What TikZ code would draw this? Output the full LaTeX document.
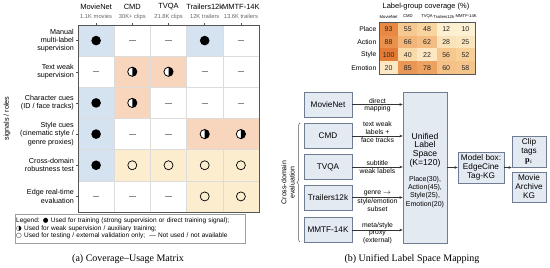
\documentclass[tikz,border=0pt]{standalone}
\usepackage{fontspec}
\setmainfont{Liberation Serif}
\setsansfont{Liberation Sans}
\newfontfamily\dejavu{DejaVu Sans}
\usetikzlibrary{arrows.meta,decorations.pathreplacing}
\definecolor{cblue}{HTML}{D5E2EF}
\definecolor{cpeach}{HTML}{F8D6BD}
\definecolor{cyell}{HTML}{FCEDCE}
\definecolor{gridc}{HTML}{DCDCDC}
\definecolor{framec}{HTML}{555555}
\definecolor{subgray}{HTML}{666666}
\definecolor{dashc}{HTML}{8A8A8A}
\definecolor{legc}{HTML}{A0A0A0}
\definecolor{boxfill}{HTML}{E4EAF2}
\definecolor{boxdraw}{HTML}{6E7D92}
\definecolor{arrc}{HTML}{333333}
\definecolor{hmlow}{HTML}{FFF8E0}
\definecolor{hmmid}{HTML}{F8D29B}
\definecolor{hmhigh}{HTML}{E47C35}
\newcommand\fsz[2]{\fontsize{#1}{#2}\selectfont}
\newcommand\symF[1]{\fill[black] (#1) circle (4.8);}
\newcommand\symH[1]{\fill[white] (#1) circle (4.6);
  \fill[black] (#1) ++(0,-4.6) arc[start angle=-90,end angle=90,radius=4.6] -- cycle;
  \draw[black,line width=0.8] (#1) circle (4.6);}
\newcommand\symO[1]{\draw[black,line width=0.7] (#1) circle (4.5);}
\newcommand\symD[1]{\draw[dashc,line width=0.6] (#1) ++(-3.2,0) -- ++(6.4,0);}
\newcommand\hmcolor[1]{%
  \ifnum#1<50\relax
    \pgfmathtruncatemacro\hmp{#1*2}\colorlet{hmc}{hmmid!\hmp!hmlow}%
  \else
    \pgfmathtruncatemacro\hmp{(#1-50)*2}\colorlet{hmc}{hmhigh!\hmp!hmmid}%
  \fi}
\tikzset{
  hdr/.style={font=\sffamily\fsz{7.5}{8.5}, inner sep=0},
  subhdr/.style={font=\sffamily\fsz{5.8}{7}, text=subgray, inner sep=0},
  rowlab/.style={font=\sffamily\fsz{7.2}{8.3}, align=right, anchor=east, inner sep=0},
  cell/.style={draw=gridc, line width=0.4, minimum width=36.2pt, minimum height=31.17pt, inner sep=0, outer sep=0},
  hmcell/.style={minimum width=19.2pt, minimum height=12.83pt, inner sep=0, font=\sffamily\fsz{7}{8}, text=black!85},
  hmhdr/.style={font=\sffamily\fsz{4.2}{5}, inner sep=0},
  hmrow/.style={font=\sffamily\fsz{6.8}{8}, anchor=east, inner sep=0},
  fbox/.style={draw=boxdraw, fill=boxfill, line width=0.6, inner sep=0, align=center, font=\sffamily\fsz{8.2}{9}},
  arr/.style={-{Stealth[length=3.2pt,width=2.6pt]}, line width=0.6, draw=arrc},
  alab/.style={font=\sffamily\fsz{6.8}{7.8}, align=center, inner sep=1pt},
  captxt/.style={font=\rmfamily\fsz{10}{12}, inner sep=0},
}
\begin{document}
\begin{tikzpicture}[x=1pt,y=-1pt]
\useasboundingbox (0,0) rectangle (550,268);
% ---------- (a) matrix ----------
\foreach \c/\r/\fc/\s in {1/1/cblue/F,2/1/white/D,3/1/white/D,4/1/cblue/F,5/1/white/D,
 1/2/white/D,2/2/cpeach/H,3/2/cpeach/H,4/2/white/D,5/2/white/D,
 1/3/cblue/F,2/3/cpeach/H,3/3/white/D,4/3/white/D,5/3/white/D,
 1/4/cblue/F,2/4/white/D,3/4/white/D,4/4/cpeach/H,5/4/cpeach/H,
 1/5/cblue/F,2/5/cyell/O,3/5/cyell/O,4/5/cyell/O,5/5/cyell/O,
 1/6/white/D,2/6/white/D,3/6/white/D,4/6/cyell/O,5/6/cyell/O}{
  \node[cell, fill=\fc] (m\c\r) at ({78+36.2*(\c-0.5)}, {25+31.17*(\r-0.5)}) {};
  \csname sym\s\endcsname{m\c\r}
}
\draw[framec, line width=0.6] (78,25) rectangle (259,212);
\foreach \c in {1,...,5} \draw[framec, line width=0.5] ({78+36.2*(\c-0.5)},25) -- ++(0,-2.5);
\foreach \r in {1,...,6} \draw[framec, line width=0.5] (78,{25+31.17*(\r-0.5)}) -- ++(-2.5,0);
\foreach \c/\n/\sub in {1/MovieNet/1.1K movies, 2/CMD/30K+ clips, 3/TVQA/21.8K clips, 4/Trailers12k/12K trailers, 5/MMTF-14K/13.6K trailers}{
  \node[hdr] (h\c) at ({78+36.2*(\c-0.5)}, 6.5) {\n};
  \node[subhdr] (s\c) at ({78+36.2*(\c-0.5)}, 16.5) {\sub};
}
\node[rowlab] (r1) at (74,40.6) {Manual\\multi-label\\supervision};
\node[rowlab] (r2) at (74,71.75) {Text weak\\supervision};
\node[rowlab] (r3) at (74,102.9) {Character cues\\(ID / face tracks)};
\node[rowlab] (r4) at (74,134.1) {Style cues\\(cinematic style /\\genre proxies)};
\node[rowlab] (r5) at (74,165.25) {Cross-domain\\robustness test};
\node[rowlab] (r6) at (74,196.4) {Edge real-time\\evaluation};
\node[rotate=90, font=\sffamily\fsz{7.2}{8}, inner sep=0] (ylab) at (7,118.5) {signals / roles};
\node[draw=legc, line width=0.5, anchor=north west, align=left, inner xsep=1pt, inner ysep=1.5pt,
  minimum width=230pt, minimum height=29.5pt, font=\sffamily\fsz{6.5}{7.7}, text width=228pt] (legend) at (15,213.5)
  {Legend: {\dejavu ●} Used for training (strong supervision or direct training signal);\\
   {\dejavu ◑} Used for weak supervision / auxiliary training;\\
   {\dejavu ○} Used for testing / external validation only;\ \ \textemdash{} Not used / not available};
\node[captxt] (capa) at (128,259) {(a) Coverage--Usage Matrix};
% ---------- (b) heatmap ----------
\node[font=\sffamily\fsz{7.5}{8}, inner sep=0] (hmtitle) at (426,7) {Label-group coverage (\%)};
\foreach \x/\n in {388.6/MovieNet,407.8/CMD,427/TVQA,443.8/Trailers12k,466.2/MMTF-14K}
  \node[hmhdr] (hh\n) at (\x,16.5) {\n};
\foreach \rowvals [count=\r] in {{93,55,48,12,10},{88,66,62,28,25},{100,40,22,56,52},{20,85,78,60,58}}{
  \foreach \v [count=\c] in \rowvals {
    \hmcolor{\v}
    \node[hmcell, fill=hmc] (hm\c\r) at ({379+19.2*(\c-0.5)},{22.7+12.83*(\r-0.5)}) {\v};
  }
}
\draw[framec, line width=0.6] (379,22.7) rectangle (475,74);
\foreach \r/\n in {1/Place,2/Action,3/Style,4/Emotion}
  \node[hmrow] (hr\r) at (376.5,{22.7+12.83*(\r-0.5)}) {\n};
% ---------- (b) flow ----------
\node[fbox, minimum width=48pt, minimum height=25pt] (movienet) at (328,104.5) {MovieNet};
\node[fbox, minimum width=48pt, minimum height=25pt] (cmd) at (328,136) {CMD};
\node[fbox, minimum width=48pt, minimum height=25pt] (tvqa) at (328,167) {TVQA};
\node[fbox, minimum width=48pt, minimum height=25pt] (trailers) at (328,197.5) {Trailers12k};
\node[fbox, minimum width=48pt, minimum height=25pt] (mmtf) at (328,230) {MMTF-14K};
\node[fbox, minimum width=44pt, minimum height=151pt] (unified) at (425,167.5) {};
\node[font=\sffamily\fsz{8.6}{8.8}, align=center, inner sep=0] (ulab) at (425,150) {Unified\\Label\\Space\\(K=120)};
\node[font=\sffamily\fsz{7}{8.2}, align=center, inner sep=0] (ugroups) at (425,192) {Place(30),\\Action(45),\\Style(25),\\Emotion(20)};
\node[fbox, minimum width=46pt, minimum height=31pt] (model) at (481,167.5) {Model box:\\EdgeCine\\Tag-KG};
\node[fbox, minimum width=34pt, minimum height=31pt] (clip) at (529,151.5) {Clip\\tags\\$\mathbf{p}_i$};
\node[fbox, minimum width=34pt, minimum height=30pt] (archive) at (529,187) {Movie\\Archive\\KG};
\draw[arr] (movienet.east) -- (movienet.east -| unified.west)
  node[alab, midway, above] {direct} node[alab, midway, below] {mapping};
\draw[arr] (cmd.east) -- (cmd.east -| unified.west)
  node[alab, midway, above] {text weak\\labels +} node[alab, midway, below] {face tracks};
\draw[arr] (tvqa.east) -- (tvqa.east -| unified.west)
  node[alab, midway, above] {subtitle} node[alab, midway, below] {weak labels};
\draw[arr] (trailers.east) -- (trailers.east -| unified.west)
  node[alab, midway, above] {genre $\rightarrow$} node[alab, midway, below] {style/emotion\\subset};
\draw[arr] (mmtf.east) -- (mmtf.east -| unified.west)
  node[alab, midway, above] {meta/style} node[alab, midway, below] {proxy\\(external)};
\draw[arr] (unified.east |- model.west) -- (model.west);
\draw[arr] (model.east) -- (model.east -| clip.west);
\coordinate (bt) at (300,123);
\coordinate (bb) at (300,242);
\draw[decorate, decoration={brace, amplitude=3pt}, draw=framec, line width=0.5] (bb) -- (bt);
\node[rotate=90, font=\sffamily\fsz{7}{8.2}, align=center, inner sep=0] (cdlab) at (288,182.5) {Cross-domain\\evaluation};
\node[captxt] (capb) at (412,259) {(b) Unified Label Space Mapping};
\end{tikzpicture}
\end{document}
